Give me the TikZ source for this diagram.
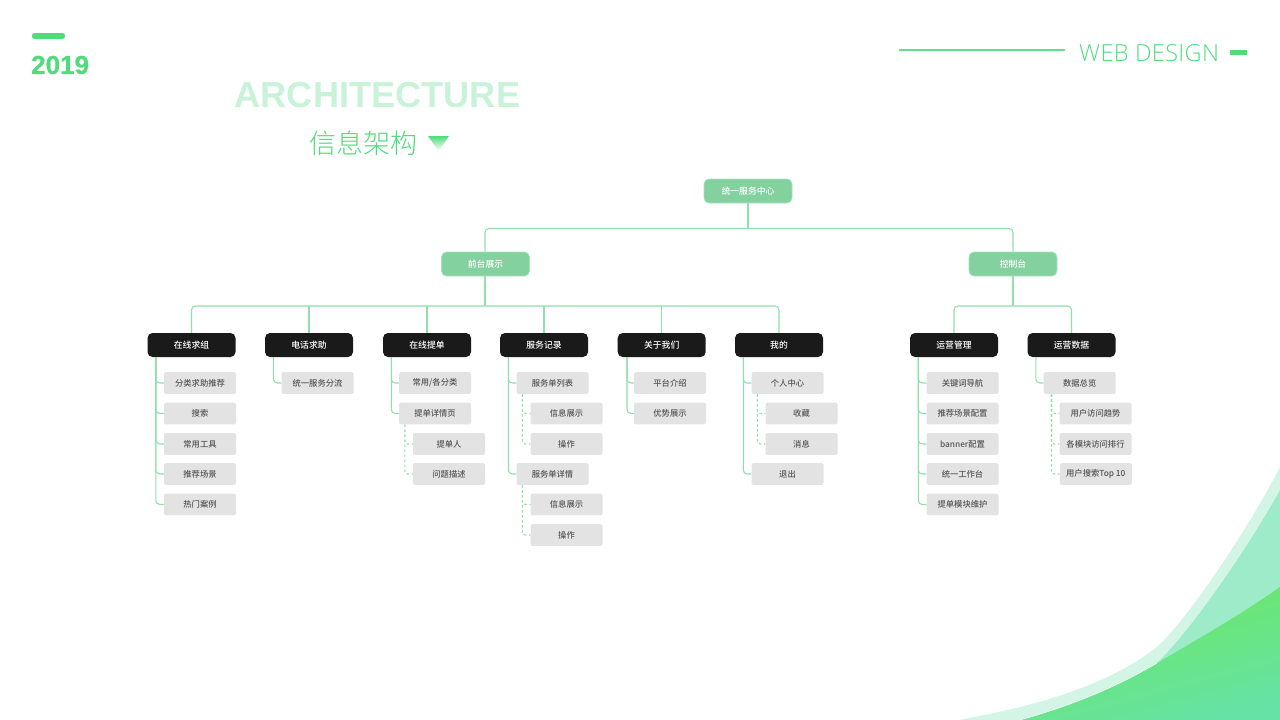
\documentclass[tikz,border=0pt]{standalone}
\usepackage{fontspec}
\setmainfont{Noto Sans CJK SC Medium}
\newfontfamily\latinbold{Liberation Sans}[BoldFont=* Bold]
\newfontfamily\latinlight{Open Sans Light}[LetterSpace=1.5]
\newfontfamily\cjklight{Noto Sans CJK SC Light}
\definecolor{brandgreen}{HTML}{4FDD7C}
\definecolor{titlegreen}{HTML}{C9F3D9}
\definecolor{linegreen}{HTML}{8FE0AC}
\definecolor{midgreen}{HTML}{84D1A0}
\definecolor{midborder}{HTML}{A5E3BD}
\definecolor{headblack}{HTML}{1A1A1A}
\definecolor{itemgray}{HTML}{E3E3E3}
\definecolor{itemtext}{HTML}{555555}
\definecolor{waveback}{HTML}{D3F5E6}
\definecolor{wavemid}{HTML}{9DEBC8}
\definecolor{wavetop}{HTML}{6CE85E}
\definecolor{wavecentre}{HTML}{57E272}
\definecolor{wavelow}{HTML}{66E2A6}
\tikzset{
	rootbox/.style={draw=midborder, line width=0.8pt, fill=midgreen, rounded corners=5pt, minimum width=88pt, minimum height=24pt, inner sep=0pt, text=white, font=\fontsize{8.8pt}{10pt}\selectfont},
	headbox/.style={fill=headblack, rounded corners=5pt, minimum width=88pt, minimum height=24pt, inner sep=0pt, text=white, font=\fontsize{8.8pt}{10pt}\selectfont},
	itembox/.style={fill=itemgray, rounded corners=1.5pt, minimum width=72pt, minimum height=21.7pt, inner sep=0pt, text=itemtext, font=\fontsize{8.3pt}{10pt}\selectfont},
	treeline/.style={draw=linegreen, line width=1.1pt, rounded corners=4pt},
	subline/.style={draw=linegreen, line width=1.1pt, rounded corners=3pt, dash pattern=on 2.5pt off 2.5pt}
}
\begin{document}
\begin{tikzpicture}[x=1pt, y=-1pt]
	\useasboundingbox (0,0) rectangle (1280,720);

	%corner waves
	\fill[waveback] (958,720) .. controls (1060,702) and (1115,678) .. (1153,650) .. controls (1180,630) and (1245,535) .. (1280,467) -- (1280,720) -- cycle;
	\fill[wavemid] (1157,663) .. controls (1190,632) and (1250,545) .. (1280,490) -- (1280,600) -- cycle;
	\shade[top color=wavetop, middle color=wavecentre, bottom color=wavelow, shading angle=15] (1020,720) .. controls (1070,706) and (1115,688) .. (1157,663) .. controls (1200,638) and (1245,612) .. (1280,587) -- (1280,720) -- cycle;
	\draw[white, line width=0.5pt] (1020,720) .. controls (1070,706) and (1115,688) .. (1157,663);

	%page header
	\fill[brandgreen, rounded corners=2.5pt] (32,33) rectangle (65,39);
	\node[anchor=west, inner sep=0pt, text=brandgreen, font=\latinbold\bfseries\fontsize{26pt}{28pt}\selectfont] (year) at (31,65) {\addfontfeature{FakeBold=0.6}2019};
	\node[anchor=west, inner sep=0pt, text=titlegreen, font=\latinbold\bfseries\fontsize{36.2pt}{38pt}\selectfont] (archtitle) at (234.5,95.5) {ARCHITECTURE};
	\node[anchor=west, inner sep=0pt, text=brandgreen, font=\cjklight\fontsize{27pt}{29pt}\selectfont] (cntitle) at (309.5,143) {信息架构};
	\shade[top color=brandgreen, bottom color=white] (428,136) -- (449,136) -- (438.5,151) -- cycle;
	\draw[brandgreen!90!white, line width=2pt] (899,49.5) -- (1065,49.5);
	\node[anchor=west, inner sep=0pt, text=brandgreen, font=\latinlight\fontsize{23.5pt}{25pt}\selectfont] (webdesign) at (1079,53.5) {WEB DESIGN};
	\fill[brandgreen] (1230,49.5) rectangle (1247,54.5);

	%top levels
	\node[rootbox] (root) at (748,191) {统一服务中心};
	\node[rootbox] (front) at (485.5,264) {前台展示};
	\node[rootbox] (console) at (1013,264) {控制台};
	\coordinate (busa) at (748,228.5);
	\coordinate (busb) at (485,306);
	\coordinate (busc) at (1013,306);

	%column heads
	\node[headbox] (h1) at (191.5,345) {在线求组};
	\node[headbox] (h2) at (309,345) {电话求助};
	\node[headbox] (h3) at (427,345) {在线提单};
	\node[headbox] (h4) at (544,345) {服务记录};
	\node[headbox] (h5) at (661.7,345) {关于我们};
	\node[headbox] (h6) at (779,345) {我的};
	\node[headbox] (h7) at (954,345) {运营管理};
	\node[headbox] (h8) at (1071.5,345) {运营数据};

	%column 1
	\node[itembox] (a1) at (200,383) {分类求助推荐};
	\node[itembox] (a2) at (200,413.5) {搜索};
	\node[itembox] (a3) at (200,444) {常用工具};
	\node[itembox] (a4) at (200,474) {推荐场景};
	\node[itembox] (a5) at (200,504.5) {热门案例};
	%column 2
	\node[itembox] (b1) at (317.5,383) {统一服务分流};
	%column 3
	\node[itembox] (c1) at (435,383) {常用/各分类};
	\node[itembox] (c2) at (435,413.5) {提单详情页};
	\node[itembox] (c3) at (449,444) {提单人};
	\node[itembox] (c4) at (449,474) {问题描述};
	%column 4
	\node[itembox] (d1) at (552.5,383) {服务单列表};
	\node[itembox] (d2) at (566.5,413.5) {信息展示};
	\node[itembox] (d3) at (566.5,444) {操作};
	\node[itembox] (d4) at (552.5,474) {服务单详情};
	\node[itembox] (d5) at (566.5,504.5) {信息展示};
	\node[itembox] (d6) at (566.5,535) {操作};
	%column 5
	\node[itembox] (e1) at (670,383) {平台介绍};
	\node[itembox] (e2) at (670,413.5) {优势展示};
	%column 6
	\node[itembox] (f1) at (787.5,383) {个人中心};
	\node[itembox] (f2) at (801.5,413.5) {收藏};
	\node[itembox] (f3) at (801.5,444) {消息};
	\node[itembox] (f4) at (787.5,474) {退出};
	%column 7
	\node[itembox] (g1) at (962.5,383) {关键词导航};
	\node[itembox] (g2) at (962.5,413.5) {推荐场景配置};
	\node[itembox] (g3) at (962.5,444) {banner配置};
	\node[itembox] (g4) at (962.5,474) {统一工作台};
	\node[itembox] (g5) at (962.5,504.5) {提单模块维护};
	%column 8
	\node[itembox] (k1) at (1079.7,383) {数据总览};
	\node[itembox] (k2) at (1095.5,413.5) {用户访问趋势};
	\node[itembox] (k3) at (1095.5,444) {各模块访问排行};
	\node[itembox] (k4) at (1095.8,474) {用户搜索Top 10};

	%upper connectors
	\draw[treeline] (root.south) -- (busa);
	\draw[treeline] (front.north -| busb) -- (busb |- busa) -- (console.north |- busa) -- (console.north);
	\draw[treeline] (front.south -| busb) -- (busb);
	\draw[treeline] (h1.north) -- (h1.north |- busb) -- (h6.north |- busb) -- (h6.north);
	\draw[treeline] (h2.north) -- (h2.north |- busb);
	\draw[treeline] (h3.north) -- (h3.north |- busb);
	\draw[treeline] (h4.north) -- (h4.north |- busb);
	\draw[treeline] (h5.north) -- (h5.north |- busb);
	\draw[treeline] (console.south) -- (busc);
	\draw[treeline] (h7.north) -- (h7.north |- busc) -- (h8.north |- busc) -- (h8.north);

	%item connectors
	\draw[treeline] ([xshift=8.5pt]h1.south west) |- (a1.west);
	\draw[treeline] ([xshift=8.5pt]h1.south west) |- (a2.west);
	\draw[treeline] ([xshift=8.5pt]h1.south west) |- (a3.west);
	\draw[treeline] ([xshift=8.5pt]h1.south west) |- (a4.west);
	\draw[treeline] ([xshift=8.5pt]h1.south west) |- (a5.west);
	\draw[treeline] ([xshift=8.5pt]h2.south west) |- (b1.west);
	\draw[treeline] ([xshift=8.5pt]h3.south west) |- (c1.west);
	\draw[treeline] ([xshift=8.5pt]h3.south west) |- (c2.west);
	\draw[treeline] ([xshift=8.5pt]h4.south west) |- (d1.west);
	\draw[treeline] ([xshift=8.5pt]h4.south west) |- (d4.west);
	\draw[treeline] ([xshift=9.5pt]h5.south west) |- (e1.west);
	\draw[treeline] ([xshift=9.5pt]h5.south west) |- (e2.west);
	\draw[treeline] ([xshift=8.5pt]h6.south west) |- (f1.west);
	\draw[treeline] ([xshift=8.5pt]h6.south west) |- (f4.west);
	\draw[treeline] ([xshift=8.5pt]h7.south west) |- (g1.west);
	\draw[treeline] ([xshift=8.5pt]h7.south west) |- (g2.west);
	\draw[treeline] ([xshift=8.5pt]h7.south west) |- (g3.west);
	\draw[treeline] ([xshift=8.5pt]h7.south west) |- (g4.west);
	\draw[treeline] ([xshift=8.5pt]h7.south west) |- (g5.west);
	\draw[treeline] ([xshift=8.5pt]h8.south west) |- (k1.west);

	%dashed sub connectors
	\draw[subline] ([xshift=6pt]c2.south west) |- (c3.west);
	\draw[subline] ([xshift=6pt]c2.south west) |- (c4.west);
	\draw[subline] ([xshift=6pt]d1.south west) |- (d2.west);
	\draw[subline] ([xshift=6pt]d1.south west) |- (d3.west);
	\draw[subline] ([xshift=6pt]d4.south west) |- (d5.west);
	\draw[subline] ([xshift=6pt]d4.south west) |- (d6.west);
	\draw[subline] ([xshift=6pt]f1.south west) |- (f2.west);
	\draw[subline] ([xshift=6pt]f1.south west) |- (f3.west);
	\draw[subline] ([xshift=8pt]k1.south west) |- (k2.west);
	\draw[subline] ([xshift=8pt]k1.south west) |- (k3.west);
	\draw[subline] ([xshift=8pt]k1.south west) |- (k4.west);
\end{tikzpicture}
\end{document}
